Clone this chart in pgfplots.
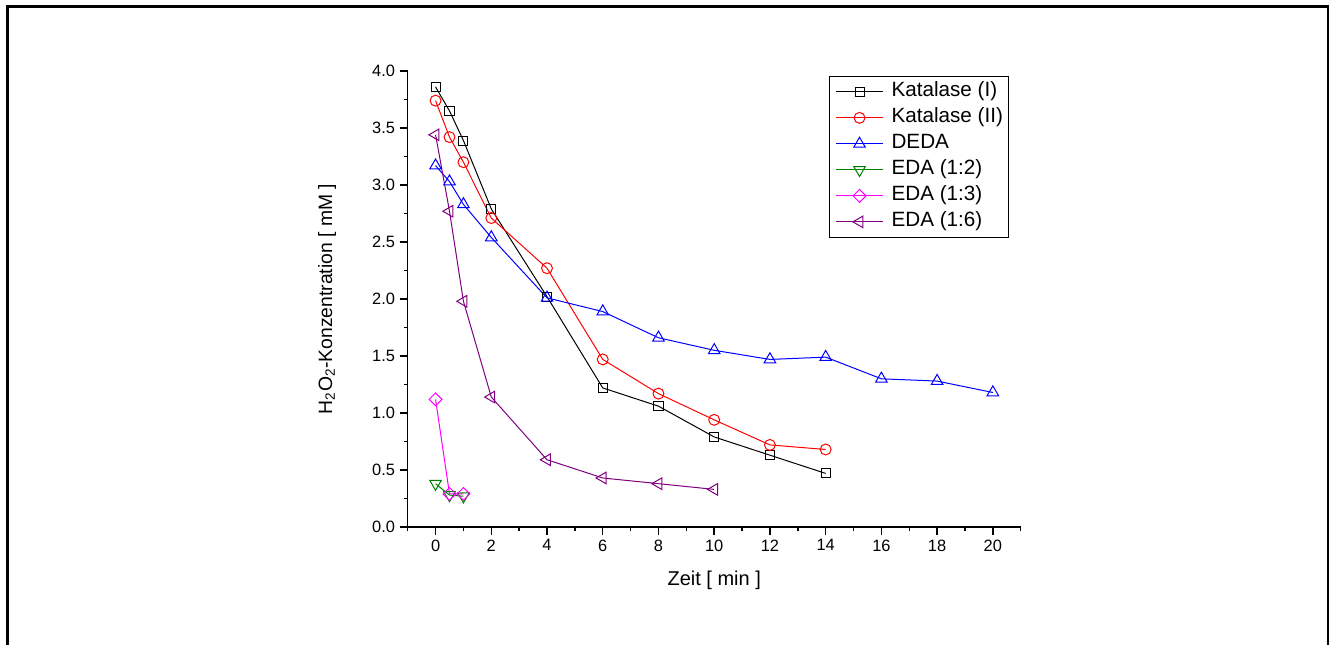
\documentclass[border=0pt]{standalone}
\usepackage{fontspec}
\setmainfont{Liberation Sans}
\usepackage{pgfplots}
\pgfplotsset{compat=1.18}
\definecolor{cgreen}{RGB}{0,128,0}
\definecolor{cpurple}{RGB}{128,0,128}
\definecolor{cmag}{RGB}{255,0,255}
\definecolor{cred}{RGB}{255,0,0}
\definecolor{cblue}{RGB}{0,0,255}
\begin{document}
\begin{tikzpicture}[x=0.75pt,y=0.75pt]
\useasboundingbox (0,0) rectangle (1335,644);
\draw[line width=1.8pt] (7.5,-5) -- (7.5,637.3) -- (1328,637.3) -- (1328,-5);
\begin{axis}[
 at={(305.775pt,87.75pt)}, anchor=south west,
 scale only axis, width=459.75pt, height=342pt,
 xmin=-1, xmax=21, ymin=0, ymax=4,
 clip=false,
 axis lines=left, axis line style={-, line width=1.1pt},
 tick align=outside, major tick length=6pt, minor tick length=3pt,
 every tick/.style={black, line width=1.1pt},
 xtick={0,2,...,20}, minor xtick={-1,1,...,21},
 ytick={0,0.5,1,1.5,2,2.5,3,3.5,4}, minor ytick={0.25,0.75,1.25,1.75,2.25,2.75,3.25,3.75},
 yticklabel style={/pgf/number format/.cd, fixed, fixed zerofill, precision=1},
 /pgf/number format/assume math mode=true,
 tick label style={font=\fontsize{12.3}{14}\selectfont},
 every axis x label/.style={at={(axis description cs:0.5,-0.116)}, anchor=center, font=\fontsize{15}{17}\selectfont},
 every axis y label/.style={at={(axis description cs:-0.1316,0.5)}, rotate=90, anchor=center, font=\fontsize{14.5}{16}\selectfont},
 xlabel={Zeit [ min ]},
 ylabel={H\textsubscript{2}O\textsubscript{2}-Konzentration [ mM ]},
 legend style={at={(axis description cs:0.6873,0.9897)}, anchor=north west, draw=black, line width=0.75pt, font=\fontsize{15.5}{17}\selectfont, cells={anchor=west}, row sep=5pt, column sep=6pt, inner sep=4.5pt, nodes={inner sep=0pt, text height=11pt, text depth=3.5pt}},
 legend image code/.code={\draw[mark repeat=2,mark phase=2,#1] plot coordinates {(0cm,0cm) (0.62cm,0cm) (1.24cm,0cm)};},
 every axis plot/.append style={line width=0.75pt, mark options={solid, line width=0.75pt, fill=white}},
]
\addplot[black, mark=square, mark size=3.4pt] coordinates {(0,3.86)(0.5,3.65)(1,3.39)(2,2.79)(4,2.02)(6,1.22)(8,1.06)(10,0.79)(12,0.63)(14,0.47)};
\addlegendentry{Katalase (I)}
\addplot[cred, mark=o, mark size=4.1pt] coordinates {(0,3.74)(0.5,3.42)(1,3.20)(2,2.71)(4,2.27)(6,1.47)(8,1.17)(10,0.94)(12,0.72)(14,0.68)};
\addlegendentry{Katalase (II)}
\addplot[cblue, mark=triangle, mark size=5pt] coordinates {(0,3.17)(0.5,3.03)(1,2.83)(2,2.54)(4,2.01)(6,1.89)(8,1.66)(10,1.55)(12,1.47)(14,1.49)(16,1.30)(18,1.28)(20,1.18)};
\addlegendentry{DEDA}
\addplot[cgreen, mark=triangle, mark size=5pt, mark options={rotate=180}] coordinates {(0,0.38)(0.5,0.28)(1,0.27)};
\addlegendentry{EDA (1:2)}
\addplot[cmag, mark=square, mark size=3.4pt, mark options={rotate=45}] coordinates {(0,1.12)(0.5,0.29)(1,0.29)};
\addlegendentry{EDA (1:3)}
\addplot[cpurple, mark=triangle, mark size=5pt, mark options={rotate=90}] coordinates {(0,3.44)(0.5,2.77)(1,1.98)(2,1.14)(4,0.59)(6,0.43)(8,0.38)(10,0.33)};
\addlegendentry{EDA (1:6)}
\end{axis}
\end{tikzpicture}
\end{document}
